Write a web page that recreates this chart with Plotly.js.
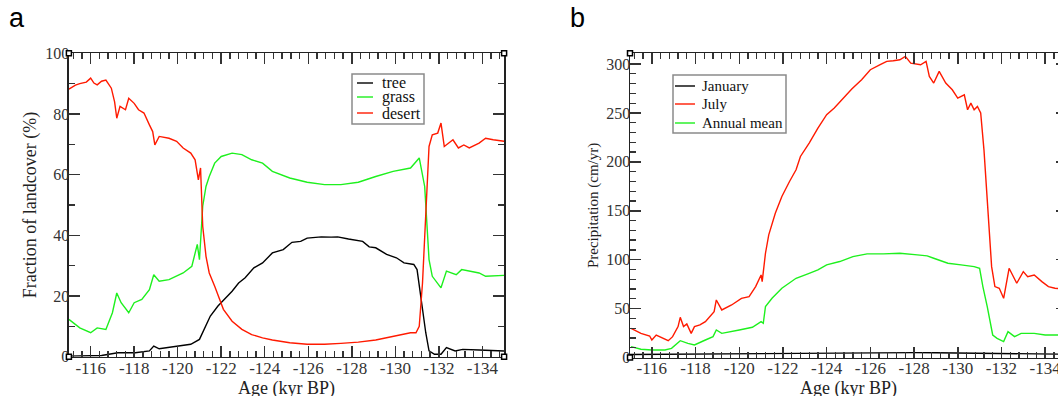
<!DOCTYPE html>
<html>
<head>
<meta charset="utf-8">
<script src="https://cdn.plot.ly/plotly-3.0.1.min.js"></script>
<style>
html,body{margin:0;padding:0;overflow:hidden;background:#fff;}
#chart{width:1075px;height:404px;}
</style>
</head>
<body>
<div id="chart"></div>
<script>
// ---------- Panel a: land cover fraction (%) ----------
const ageTree = [-115.0,-116.5,-117.25,-118.05,-118.7,-118.9,-119.15,-119.95,-120.6,-121.0,-121.2,-121.5,-121.85,-122.15,-122.5,-122.8,-123.1,-123.5,-123.9,-124.35,-124.85,-125.25,-125.65,-125.95,-126.6,-127.05,-127.35,-127.85,-128.5,-128.8,-129.1,-129.6,-130.05,-130.4,-130.85,-131.0,-131.2,-131.4,-131.55,-131.8,-132.1,-132.35,-132.75,-133.1,-133.85,-135.0];
const tree = [0.2,0.4,1.3,1.3,1.9,3.5,2.6,3.5,4.1,5.7,9.0,13.4,16.7,18.9,21.6,24.3,26.0,29.3,30.9,34.2,35.3,37.7,38.0,39.1,39.5,39.4,39.5,38.8,38.0,36.2,35.9,33.7,32.6,30.9,30.4,28.7,17.8,7.9,1.9,0.8,0.8,3.0,1.9,2.4,2.2,1.9];

const ageGrass = [-115.0,-115.5,-116.0,-116.3,-116.7,-117.0,-117.2,-117.4,-117.75,-118.0,-118.35,-118.7,-118.9,-119.15,-119.6,-120.25,-120.65,-120.9,-121.0,-121.15,-121.3,-121.45,-121.7,-122.0,-122.5,-122.95,-123.4,-123.9,-124.35,-125.15,-125.95,-126.75,-127.5,-128.3,-129.1,-129.9,-130.7,-131.1,-131.35,-131.4,-131.55,-131.7,-132.1,-132.35,-132.8,-133.05,-133.85,-134.15,-135.0];
const grass = [12.3,9.5,7.9,9.5,9.0,14.5,21.0,17.8,14.5,17.8,18.9,22.1,27.0,24.9,25.4,27.6,29.8,37.0,32.0,49.6,56.1,59.4,63.8,66.0,67.1,66.6,64.9,63.8,61.1,58.9,57.5,56.7,56.7,57.5,59.4,61.1,62.2,65.5,56.1,49.6,32.0,26.5,22.7,28.2,27.0,28.7,27.6,26.5,26.8];

const ageDesert = [-115.0,-115.3,-115.5,-115.8,-116.0,-116.15,-116.3,-116.5,-116.7,-116.95,-117.1,-117.2,-117.35,-117.6,-117.75,-118.0,-118.2,-118.45,-118.7,-118.85,-118.95,-119.15,-119.6,-119.95,-120.25,-120.6,-120.8,-120.95,-121.05,-121.1,-121.15,-121.3,-121.45,-121.7,-122.1,-122.5,-122.95,-123.4,-123.9,-124.35,-125.15,-125.95,-126.75,-127.5,-128.3,-129.1,-129.9,-130.7,-130.95,-131.1,-131.25,-131.4,-131.55,-131.7,-131.95,-132.1,-132.25,-132.65,-132.9,-133.15,-133.4,-133.85,-134.15,-134.5,-135.0];
const desert = [88.2,89.5,90.0,90.5,91.8,90.2,89.6,90.8,91.2,88.5,84.0,78.6,82.5,81.4,85.2,83.5,81.4,80.3,76.4,74.2,69.8,72.6,72.0,71.0,68.8,67.1,64.9,58.3,62.2,51.8,43.0,33.1,27.6,23.2,15.6,11.7,9.0,7.3,6.2,5.5,4.6,4.1,4.1,4.4,4.8,5.5,6.8,7.9,7.9,10.0,24.3,46.0,69.3,73.1,73.7,77.0,69.3,71.5,68.8,69.8,68.8,70.4,72.0,71.5,71.0];

// ---------- Panel b: precipitation (cm/yr) ----------
const ageJan = [-115.0,-116.0,-117.0,-118.0,-119.0,-120.0,-121.0,-122.0,-123.0,-124.0,-125.0,-126.0,-127.0,-128.0,-129.0,-130.0,-131.0,-132.0,-133.0,-134.0,-135.0];
const january = [3.0,3.2,3.5,3.6,3.8,4.0,4.2,4.4,4.6,4.8,5.0,5.2,5.2,5.0,4.9,4.6,4.4,4.0,3.7,3.5,3.3];

const ageJul = [-115.05,-115.5,-115.9,-116.0,-116.2,-116.5,-116.75,-116.95,-117.2,-117.3,-117.45,-117.6,-117.8,-117.95,-118.2,-118.45,-118.65,-118.85,-118.95,-119.2,-119.65,-120.1,-120.45,-120.75,-121.0,-121.05,-121.2,-121.35,-121.65,-121.95,-122.3,-122.6,-122.8,-123.2,-123.6,-124.0,-124.35,-124.75,-125.15,-125.6,-126.0,-126.45,-126.75,-127.05,-127.35,-127.6,-127.85,-128.3,-128.55,-128.7,-128.9,-129.15,-129.45,-129.75,-130.0,-130.3,-130.45,-130.6,-130.75,-130.9,-131.05,-131.2,-131.35,-131.55,-131.7,-131.9,-132.1,-132.35,-132.7,-133.0,-133.2,-133.5,-133.85,-134.15,-134.45,-134.8];
const july = [29.8,24.7,22.0,17.9,23.0,19.6,17.2,21.3,31.6,41.1,31.6,34.3,24.7,31.6,33.3,36.7,41.8,46.9,58.8,48.6,53.7,60.5,62.3,72.5,84.4,77.6,106.6,125.4,147.5,164.6,179.9,191.9,205.5,219.2,234.5,248.2,255.0,265.2,274.4,284.0,294.2,299.3,302.7,303.4,304.4,307.8,301.0,299.3,302.7,287.4,280.6,292.5,280.6,273.7,265.2,268.6,253.3,260.1,253.3,256.7,249.9,212.3,161.2,92.9,72.5,70.8,60.5,91.2,75.9,87.8,82.7,84.4,77.6,72.5,70.8,70.0];

const ageAnn = [-115.05,-115.5,-116.0,-116.6,-116.9,-117.3,-117.65,-117.95,-118.45,-118.8,-118.95,-119.2,-120.0,-120.6,-121.0,-121.1,-121.2,-121.5,-121.95,-122.6,-123.2,-123.6,-124.0,-124.6,-125.2,-125.85,-126.6,-127.35,-128.15,-128.6,-128.9,-129.55,-130.15,-130.75,-131.0,-131.15,-131.35,-131.6,-131.8,-132.1,-132.3,-132.6,-132.9,-133.5,-134.0,-134.45,-134.8];
const annual = [11.1,8.4,7.7,7.7,9.4,17.2,14.5,12.8,17.9,21.3,28.1,24.7,28.1,30.9,36.7,35.0,52.0,60.5,70.8,81.0,86.1,89.5,94.7,98.1,103.2,105.9,105.9,106.6,104.9,103.9,101.5,96.4,94.7,92.9,91.2,72.5,52.0,23.0,19.6,16.2,26.4,21.3,24.7,24.7,23.0,23.0,23.0];

// ---------- Axis tick labels ----------
const xTickVals = [-116,-118,-120,-122,-124,-126,-128,-130,-132,-134];
const xTickText = ['-116','-118','-120','-122','-124','-126','-128','-130','-132','-134'];
const yTickValsA = [0,20,40,60,80,100];
const yTickTextA = ['0','20','40','60','80','100'];
const yTickValsB = [0,50,100,150,200,250,300];
const yTickTextB = ['0','50','100','150','200','250','300'];

const legendA = ['tree','grass','desert'];
const legendB = ['January','July','Annual mean'];

// ---------- styling ----------
const W = 1075, H = 404;
const px = x => x / W;
const py = y => 1 - y / H;
const SERIF = '"Liberation Serif", "Times New Roman", Times, serif';
const SANS = '"Liberation Sans", Arial, sans-serif';
const BLACK = '#000000', RED = '#ff1a00', GREEN = '#1ef01e';
const LW = 1.4;

function line(x, y, color, xa, ya, name) {
  return {x: x, y: y, type: 'scatter', mode: 'lines', name: name,
          line: {color: color, width: LW}, xaxis: xa, yaxis: ya,
          showlegend: false, hoverinfo: 'x+y'};
}

const traces = [
  line(ageTree, tree, BLACK, 'x', 'y', legendA[0]),
  line(ageGrass, grass, GREEN, 'x', 'y', legendA[1]),
  line(ageDesert, desert, RED, 'x', 'y', legendA[2]),
  line(ageJan, january, BLACK, 'x2', 'y2', legendB[0]),
  line(ageJul, july, RED, 'x2', 'y2', legendB[1]),
  line(ageAnn, annual, GREEN, 'x2', 'y2', legendB[2])
];

function xAxis(domain, standoff) {
  return {
    domain: domain, range: [-115, -135], showgrid: false, zeroline: false,
    showline: true, linecolor: '#222', linewidth: 1.5, mirror: 'allticks',
    ticks: 'inside', ticklen: 11, tickwidth: 1.5, tickcolor: '#333',
    ticklabelstandoff: -5,
    tickmode: 'array', tickvals: xTickVals, ticktext: xTickText,
    minor: {dtick: 0.4, tick0: -116, ticks: 'inside', ticklen: 6, tickwidth: 1.3, tickcolor: '#333', showgrid: false},
    tickfont: {family: SERIF, size: 17, color: '#333'},
    title: {text: 'Age (kyr BP)', font: {family: SERIF, size: 18, color: '#222'}, standoff: standoff}
  };
}
function yAxis(domain, range, vals, text, minorStep, title, tsize) {
  return {
    domain: domain, range: range, showgrid: false, zeroline: false,
    showline: true, linecolor: '#222', linewidth: 1.5, mirror: 'allticks',
    ticks: 'inside', ticklen: 11, tickwidth: 1.5, tickcolor: '#333',
    ticklabelstandoff: -5,
    tickmode: 'array', tickvals: vals, ticktext: text,
    minor: {dtick: minorStep, tick0: 0, ticks: 'inside', ticklen: 6, tickwidth: 1.3, tickcolor: '#333', showgrid: false},
    tickfont: {family: SERIF, size: 16, color: '#333'},
    title: {text: title, font: {family: SERIF, size: tsize, color: '#222'}, standoff: 4}
  };
}

const xA = xAxis([px(68.9), px(504.1)], 0);
const xB = xAxis([px(630), px(1067)], 3);
xB.anchor = 'y2';
const yA = yAxis([py(356.7), py(53.3)], [0, 100], yTickValsA, yTickTextA, 10, 'Fraction of landcover (%)', 18);
const yB = yAxis([py(357.5), py(53.3)], [0, 311], yTickValsB, yTickTextB, 10, 'Precipitation (cm/yr)', 15);
yB.anchor = 'x2';

// legend drawn as boxes + samples + text
const shapes = [];
const annotations = [];
function legendBox(x0, x1, y0, y1, lx0, lx1, tx, rows, names, colors, fsize) {
  shapes.push({type: 'rect', xref: 'paper', yref: 'paper', x0: px(x0), x1: px(x1), y0: py(y1), y1: py(y0),
               line: {color: '#8a8a8a', width: 1.5}, fillcolor: 'rgba(0,0,0,0)'});
  rows.forEach((r, i) => {
    shapes.push({type: 'line', xref: 'paper', yref: 'paper', x0: px(lx0), x1: px(lx1), y0: py(r), y1: py(r),
                 line: {color: colors[i], width: LW}});
    annotations.push({xref: 'paper', yref: 'paper', x: px(tx), y: py(r), xanchor: 'left', yanchor: 'middle',
                      text: names[i], showarrow: false, borderpad: 0,
                      font: {family: SERIF, size: fsize, color: '#111'}});
  });
}
legendBox(352, 424, 74, 124, 357, 373, 381, [83, 97, 113], legendA, [BLACK, GREEN, RED], 16);
legendBox(673, 786, 75, 133, 675, 695, 701, [86, 104, 123], legendB, [BLACK, RED, GREEN], 15);

// corner markers
[[68.9, 53.3], [68.9, 356.7], [504.1, 53.3], [504.1, 356.7], [630, 53.3], [630, 357.5]].forEach(c => {
  shapes.push({type: 'rect', xref: 'paper', yref: 'paper', xsizemode: 'pixel', ysizemode: 'pixel',
               xanchor: px(c[0]), yanchor: py(c[1]), x0: -2.5, x1: 2.5, y0: -2.5, y1: 2.5,
               line: {color: '#000', width: 1.5}, fillcolor: '#fff'});
});

annotations.push({xref: 'paper', yref: 'paper', x: px(17), y: py(1), xanchor: 'center', yanchor: 'top',
                  text: 'a', showarrow: false, font: {family: SANS, size: 27, color: '#000'}});
annotations.push({xref: 'paper', yref: 'paper', x: px(577), y: py(1), xanchor: 'center', yanchor: 'top',
                  text: 'b', showarrow: false, font: {family: SANS, size: 27, color: '#000'}});

const layout = {
  width: W, height: H, margin: {l: 0, r: 0, t: 0, b: 0},
  paper_bgcolor: '#fff', plot_bgcolor: '#fff', showlegend: false,
  font: {family: SERIF},
  xaxis: xA, yaxis: yA, xaxis2: xB, yaxis2: yB,
  shapes: shapes, annotations: annotations
};

Plotly.newPlot('chart', traces, layout, {displayModeBar: false, staticPlot: true});
</script>
</body>
</html>
